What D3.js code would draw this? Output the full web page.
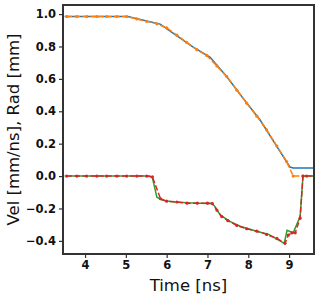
<!DOCTYPE html>
<html>
<head>
<meta charset="utf-8">
<script src="https://cdn.jsdelivr.net/npm/d3@7"></script>
<style>
  body { margin: 0; background: #fff; }
  text { font-family: "DejaVu Sans", sans-serif; }
</style>
</head>
<body>
<div id="chart-area"></div>
<script>
// radius (solid) and sampled radius (dashed + dots)
var radT = [3.5, 5.05, 5.3, 5.84, 6.2, 6.65, 7.06, 7.48, 7.87, 8.29, 8.71, 9.02, 9.1, 9.62];
var radV = [0.985, 0.985, 0.97, 0.938, 0.875, 0.796, 0.735, 0.611, 0.481, 0.346, 0.179, 0.056, 0.05, 0.05];
var radSampT = [3.55, 3.8, 4.04, 4.29, 4.53, 4.78, 5.02, 5.27, 5.51, 5.76, 6.0, 6.25, 6.49, 6.74, 6.98, 7.23, 7.47, 7.72, 7.96, 8.21, 8.45, 8.7, 8.94, 9.1, 9.34, 9.62];
var radSampV = [0.985, 0.985, 0.985, 0.985, 0.985, 0.985, 0.985, 0.97, 0.955, 0.94, 0.915, 0.87, 0.825, 0.78, 0.745, 0.68, 0.615, 0.53, 0.45, 0.37, 0.285, 0.185, 0.09, 0.0, 0.0, 0.0];

// velocity (solid) and sampled velocity (dashed + dots)
var velT = [3.5, 5.58, 5.65, 5.76, 5.9, 6.2, 6.5, 7.0, 7.11, 7.19, 7.31, 7.55, 7.8, 8.2, 8.5, 8.88, 8.95, 9.1, 9.27, 9.34, 9.62];
var velV = [0, 0, -0.01, -0.13, -0.15, -0.16, -0.165, -0.17, -0.168, -0.19, -0.24, -0.28, -0.31, -0.34, -0.36, -0.415, -0.335, -0.35, -0.25, 0, 0];
var velSampT = [3.55, 3.8, 4.04, 4.29, 4.53, 4.78, 5.02, 5.27, 5.51, 5.65, 5.85, 6.0, 6.25, 6.5, 6.75, 7.0, 7.12, 7.23, 7.35, 7.5, 7.72, 7.96, 8.21, 8.45, 8.7, 8.9, 8.98, 9.07, 9.15, 9.27, 9.34, 9.43, 9.62];
var velSampV = [0, 0, 0, 0, 0, 0, 0, 0, 0, -0.005, -0.14, -0.155, -0.16, -0.167, -0.167, -0.167, -0.17, -0.21, -0.25, -0.275, -0.305, -0.325, -0.34, -0.36, -0.385, -0.415, -0.364, -0.35, -0.35, -0.26, 0, 0, 0];

var xTicks = [4, 5, 6, 7, 8, 9];
var yTicks = [-0.4, -0.2, 0.0, 0.2, 0.4, 0.6, 0.8, 1.0];

var canvasWidth = 319;
var canvasHeight = 298;
var margin = { left: 63, right: 5, top: 5, bottom: 44 };
var width = canvasWidth - margin.left - margin.right;
var height = canvasHeight - margin.top - margin.bottom;

var svg = d3.select("#chart-area")
    .append("svg")
        .attr("width", canvasWidth)
        .attr("height", canvasHeight);
var g = svg.append("g")
        .attr("transform", `translate(${margin.left},${margin.top})`);

var x = d3.scaleLinear().domain([3.46, 9.61]).range([0, width]);
var y = d3.scaleLinear().domain([-0.481, 1.056]).range([height, 0]);

g.append("clipPath").attr("id", "clip")
    .append("rect").attr("width", width).attr("height", height);

var plot = g.append("g").attr("clip-path", "url(#clip)");

function drawLine(ts, vs, color, dash) {
    var pts = ts.map((t, i) => [t, vs[i]]);
    var line = d3.line().x(d => x(d[0])).y(d => y(d[1]));
    plot.append("path")
        .datum(pts)
        .attr("d", line)
        .attr("fill", "none")
        .attr("stroke", color)
        .attr("stroke-width", 1.5)
        .attr("stroke-dasharray", dash ? "5.5,2.4" : null);
    if (dash) {
        plot.selectAll(null).data(pts).enter()
            .append("circle")
            .attr("cx", d => x(d[0]))
            .attr("cy", d => y(d[1]))
            .attr("r", 1.6)
            .attr("fill", color);
    }
}

drawLine(radT, radV, "#1f77b4", false);
drawLine(radSampT, radSampV, "#ff7f0e", true);
drawLine(velT, velV, "#2ca02c", false);
drawLine(velSampT, velSampV, "#d62728", true);

// axes
var xAxisCall = d3.axisBottom(x).tickValues(xTicks).tickSize(4).tickPadding(3)
    .tickFormat(d3.format("d"));
var xAxis = g.append("g")
    .attr("transform", `translate(0,${height})`)
    .call(xAxisCall);

var yAxisCall = d3.axisLeft(y).tickValues(yTicks).tickSize(4).tickPadding(3)
    .tickFormat(d => d3.format(".1f")(d).replace("-", "\u2212"));
var yAxis = g.append("g").call(yAxisCall);

[xAxis, yAxis].forEach(a => {
    a.select(".domain").remove();
    a.selectAll("line").attr("stroke", "#333").attr("stroke-width", 1.2);
    a.selectAll("text")
        .attr("font-family", "DejaVu Sans")
        .attr("font-size", "11.5px")
        .attr("font-weight", "bold")
        .attr("fill", "#111");
});

// frame
g.append("rect")
    .attr("width", width)
    .attr("height", height)
    .attr("fill", "none")
    .attr("stroke", "#333")
    .attr("stroke-width", 2);

// X label
g.append("text")
    .attr("x", width / 2)
    .attr("y", height + 37)
    .attr("font-size", "16.5px")
    .attr("text-anchor", "middle")
    .attr("fill", "#111")
    .text("Time [ns]");

// Y label
g.append("text")
    .attr("x", -(height / 2))
    .attr("y", -(margin.left - 19))
    .attr("font-size", "16.5px")
    .attr("text-anchor", "middle")
    .attr("fill", "#111")
    .attr("transform", "rotate(-90)")
    .text("Vel [mm/ns], Rad [mm]");
</script>
</body>
</html>
